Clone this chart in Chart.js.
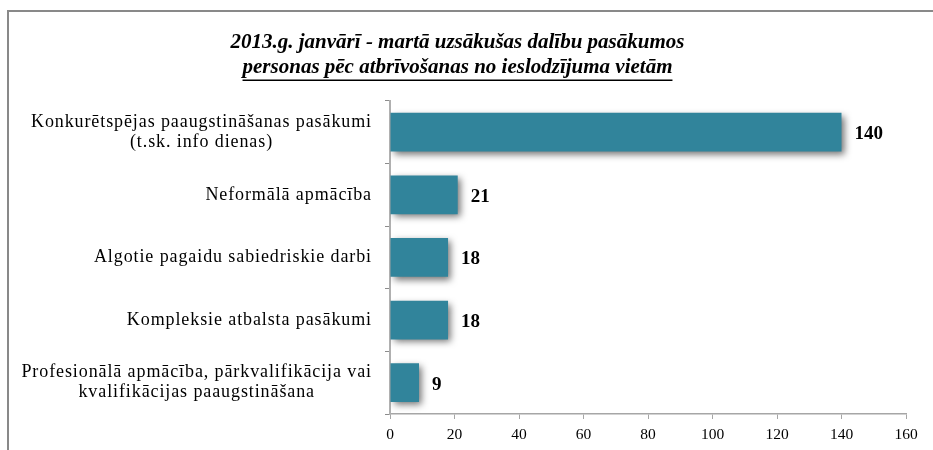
<!DOCTYPE html>
<html>
<head>
<meta charset="utf-8">
<script src="https://cdn.jsdelivr.net/npm/chart.js@4.4.0/dist/chart.umd.min.js"></script>
<style>
  html, body { margin: 0; padding: 0; background: #fff; overflow: hidden; }
  #wrap { position: relative; width: 933px; height: 450px; }
  #frame {
    position: absolute; left: 7px; top: 10px; right: -20px; bottom: -20px;
    border-top: 2px solid #898989; border-left: 2px solid #898989;
  }
  canvas { position: absolute; left: 0; top: 0; }
</style>
</head>
<body>
<div id="wrap">
  <div id="frame"></div>
  <canvas id="chart" width="933" height="450"></canvas>
</div>
<script>
const titleLines = [
  "2013.g. janvārī - martā uzsākušas dalību pasākumos",
  "personas pēc atbrīvošanas no ieslodzījuma vietām"
];

const categories = [
  ["Konkurētspējas paaugstināšanas pasākumi", "(t.sk. info dienas)"],
  ["Neformālā apmācība"],
  ["Algotie pagaidu sabiedriskie darbi"],
  ["Kompleksie atbalsta pasākumi"],
  ["Profesionālā apmācība, pārkvalifikācija vai", "kvalifikācijas paaugstināšana"]
];

const values = [140, 21, 18, 18, 9];

const xMin = 0;
const xMax = 160;
const xStep = 20;

const serif = '"Liberation Serif", "Times New Roman", serif';

// bars get a soft drop shadow, value labels drawn after without it
const barShadow = {
  id: "barShadow",
  beforeDatasetsDraw(chart) {
    const ctx = chart.ctx;
    ctx.save();
    ctx.shadowColor = "rgba(0,0,0,0.55)";
    ctx.shadowBlur = 7;
    ctx.shadowOffsetX = 3;
    ctx.shadowOffsetY = 3;
  },
  afterDatasetsDraw(chart) {
    const ctx = chart.ctx;
    ctx.restore();

    const meta = chart.getDatasetMeta(0);
    ctx.save();
    ctx.font = "bold 19px " + serif;
    ctx.fillStyle = "#000";
    ctx.textAlign = "left";
    ctx.textBaseline = "middle";
    meta.data.forEach((bar, i) => {
      ctx.fillText(String(values[i]), bar.x + 13, bar.y + 2);
    });
    ctx.restore();
  }
};

// category labels: block right-aligned, lines centred inside the block
const catLabels = {
  id: "catLabels",
  afterDraw(chart) {
    const ctx = chart.ctx;
    const y = chart.scales.y;
    const right = y.right - 18;
    const lh = 20;
    ctx.save();
    ctx.font = "18px " + serif;
    ctx.letterSpacing = "0.9px";
    ctx.fillStyle = "#000";
    ctx.textAlign = "left";
    ctx.textBaseline = "middle";
    categories.forEach((lines, i) => {
      const widths = lines.map((l) => ctx.measureText(l).width);
      const widest = Math.max(...widths);
      const cy = y.getPixelForValue(i);
      const top = cy - (lines.length - 1) * lh / 2;
      lines.forEach((l, k) => {
        const x = right - widest + (widest - widths[k]) / 2;
        ctx.fillText(l, x, top + k * lh);
      });
    });
    ctx.restore();
  }
};

// underline second title line
const titleUnderline = {
  id: "titleUnderline",
  afterDraw(chart) {
    const tb = chart.titleBlock;
    const opts = chart.options.plugins.title;
    const ctx = chart.ctx;
    const fs = opts.font.size;
    const lh = fs * 1.2;
    ctx.save();
    ctx.font = "italic bold " + fs + "px " + serif;
    const w = ctx.measureText(titleLines[1]).width;
    const cx = (tb.left + tb.right) / 2;
    const yLine = tb.top + opts.padding.top + lh * 1.5 + 13;
    ctx.strokeStyle = "#000";
    ctx.lineWidth = 1.5;
    ctx.beginPath();
    ctx.moveTo(cx - w / 2, yLine);
    ctx.lineTo(cx + w / 2, yLine);
    ctx.stroke();
    ctx.restore();
  }
};

new Chart(document.getElementById("chart"), {
  type: "bar",
  data: {
    labels: categories,
    datasets: [{
      data: values,
      backgroundColor: "#31849b",
      borderWidth: 0,
      barPercentage: 0.62,
      categoryPercentage: 1
    }]
  },
  options: {
    indexAxis: "y",
    responsive: false,
    devicePixelRatio: 1,
    animation: false,
    layout: { padding: { left: 9, right: 27, top: 0, bottom: 0 } },
    plugins: {
      legend: { display: false },
      tooltip: { enabled: false },
      title: {
        display: true,
        text: titleLines,
        color: "#000",
        font: { family: serif, size: 21, style: "italic", weight: "bold" },
        padding: { top: 29.5, bottom: 21 }
      }
    },
    scales: {
      x: {
        min: xMin,
        max: xMax,
        afterFit: (s) => { s.height = 36; },
        ticks: {
          stepSize: xStep,
          color: "#000",
          padding: 7,
          font: { family: serif, size: 15.5 }
        },
        grid: { drawOnChartArea: false, drawTicks: true, tickLength: 5, color: "#a6a6a6" },
        border: { color: "#a6a6a6", width: 1.5 }
      },
      y: {
        afterFit: (s) => { s.width = 381; },
        ticks: { display: false },
        grid: { drawOnChartArea: false, drawTicks: true, tickLength: 5, color: "#8c8c8c" },
        border: { color: "#b0b0b0", width: 2 }
      }
    }
  },
  plugins: [barShadow, catLabels, titleUnderline]
});
</script>
</body>
</html>
